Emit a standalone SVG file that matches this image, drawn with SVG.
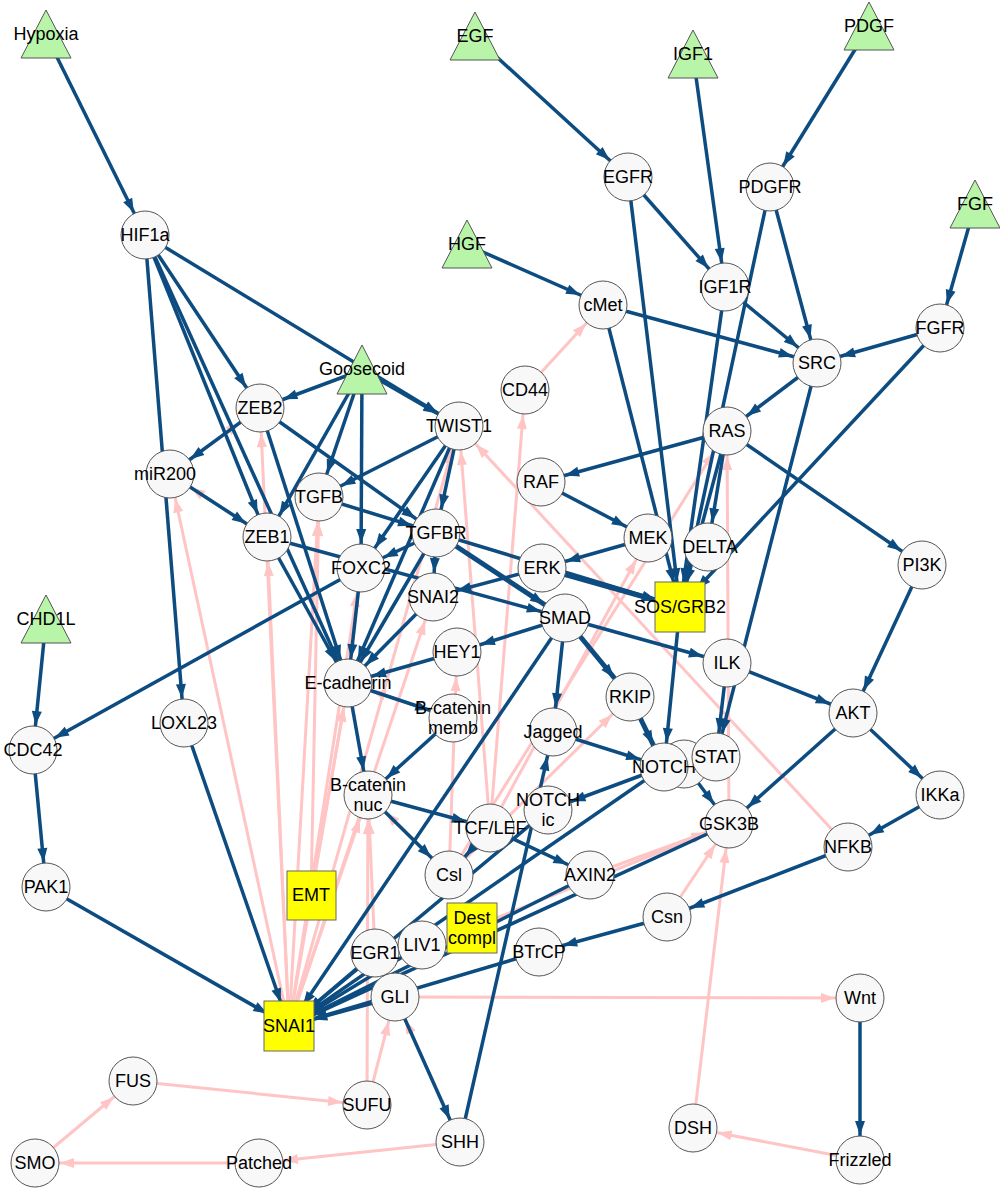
<svg xmlns="http://www.w3.org/2000/svg" width="1000" height="1190" viewBox="0 0 1000 1190">
<style>
.b line{stroke:#0d4c80;stroke-width:3.5;marker-end:url(#ab)}
.p line{stroke:#ffc4c4;stroke-width:3;marker-end:url(#ap)}
.c{fill:#f8f8f8;stroke:#555;stroke-width:1}
.t{fill:#b8f5a8;stroke:#555;stroke-width:1}
.s{fill:#ffff00;stroke:#666;stroke-width:1}
text{font-family:"Liberation Sans",Arial,sans-serif;font-size:18px;fill:#000;text-anchor:middle;dominant-baseline:central}
</style>
<defs>
<marker id="ab" markerUnits="userSpaceOnUse" viewBox="0 0 14 10" refX="39" refY="5" markerWidth="14" markerHeight="10" orient="auto" overflow="visible"><path d="M0,0 L14,5 L0,10 z" fill="#0d4c80"/></marker>
<marker id="ap" markerUnits="userSpaceOnUse" viewBox="0 0 14 10" refX="39" refY="5" markerWidth="14" markerHeight="10" orient="auto" overflow="visible"><path d="M0,0 L14,5 L0,10 z" fill="#ffc4c4"/></marker>
</defs>
<g id="connectors">
<g class="p">
<line x1="289" y1="1026" x2="170" y2="474"/>
<line x1="289" y1="1026" x2="260" y2="408"/>
<line x1="289" y1="1026" x2="267" y2="537"/>
<line x1="289" y1="1026" x2="319" y2="497"/>
<line x1="289" y1="1026" x2="361" y2="568"/>
<line x1="289" y1="1026" x2="348" y2="683"/>
<line x1="289" y1="1026" x2="459" y2="426"/>
<line x1="289" y1="1026" x2="433" y2="597"/>
<line x1="289" y1="1026" x2="368" y2="795"/>
<line x1="311" y1="895" x2="319" y2="497"/>
<line x1="311" y1="895" x2="348" y2="683"/>
<line x1="170" y1="474" x2="260" y2="408"/>
<line x1="267" y1="537" x2="170" y2="474"/>
<line x1="525" y1="390" x2="603" y2="305"/>
<line x1="490" y1="828" x2="525" y2="390"/>
<line x1="490" y1="828" x2="459" y2="426"/>
<line x1="848" y1="847" x2="459" y2="426"/>
<line x1="729" y1="824" x2="727" y2="431"/>
<line x1="490" y1="828" x2="648" y2="538"/>
<line x1="449" y1="875" x2="727" y2="431"/>
<line x1="449" y1="875" x2="630" y2="697"/>
<line x1="449" y1="875" x2="457" y2="652"/>
<line x1="449" y1="875" x2="368" y2="795"/>
<line x1="453" y1="718" x2="348" y2="683"/>
<line x1="590" y1="875" x2="729" y2="824"/>
<line x1="472" y1="928" x2="729" y2="824"/>
<line x1="667" y1="917" x2="729" y2="824"/>
<line x1="693" y1="1128" x2="729" y2="824"/>
<line x1="860" y1="1160" x2="693" y2="1128"/>
<line x1="395" y1="997" x2="860" y2="998"/>
<line x1="460" y1="1142" x2="259" y2="1163"/>
<line x1="259" y1="1163" x2="35" y2="1163"/>
<line x1="35" y1="1163" x2="133" y2="1081"/>
<line x1="133" y1="1081" x2="367" y2="1105"/>
<line x1="367" y1="1105" x2="395" y2="997"/>
<line x1="367" y1="1105" x2="368" y2="795"/>
<line x1="375" y1="953" x2="368" y2="795"/>
<line x1="460" y1="1142" x2="395" y2="997"/>
</g>
<g class="b">
<line x1="46" y1="35" x2="145" y2="235"/>
<line x1="475" y1="37" x2="628" y2="177"/>
<line x1="693" y1="55" x2="725" y2="287"/>
<line x1="869" y1="27" x2="770" y2="187"/>
<line x1="975" y1="205" x2="940" y2="328"/>
<line x1="467" y1="245" x2="603" y2="305"/>
<line x1="145" y1="235" x2="260" y2="408"/>
<line x1="145" y1="235" x2="267" y2="537"/>
<line x1="145" y1="235" x2="459" y2="426"/>
<line x1="145" y1="235" x2="184" y2="723"/>
<line x1="145" y1="235" x2="348" y2="683"/>
<line x1="362" y1="370" x2="260" y2="408"/>
<line x1="362" y1="370" x2="459" y2="426"/>
<line x1="362" y1="370" x2="319" y2="497"/>
<line x1="362" y1="370" x2="361" y2="568"/>
<line x1="362" y1="370" x2="267" y2="537"/>
<line x1="260" y1="408" x2="170" y2="474"/>
<line x1="260" y1="408" x2="348" y2="683"/>
<line x1="260" y1="408" x2="436" y2="533"/>
<line x1="170" y1="474" x2="267" y2="537"/>
<line x1="267" y1="537" x2="348" y2="683"/>
<line x1="267" y1="537" x2="565" y2="618"/>
<line x1="459" y1="426" x2="319" y2="497"/>
<line x1="459" y1="426" x2="361" y2="568"/>
<line x1="459" y1="426" x2="348" y2="683"/>
<line x1="459" y1="426" x2="436" y2="533"/>
<line x1="319" y1="497" x2="436" y2="533"/>
<line x1="436" y1="533" x2="433" y2="597"/>
<line x1="436" y1="533" x2="361" y2="568"/>
<line x1="436" y1="533" x2="348" y2="683"/>
<line x1="436" y1="533" x2="565" y2="618" style="stroke-width:5"/>
<line x1="436" y1="533" x2="680" y2="607"/>
<line x1="361" y1="568" x2="33" y2="750"/>
<line x1="361" y1="568" x2="348" y2="683"/>
<line x1="433" y1="597" x2="348" y2="683"/>
<line x1="457" y1="652" x2="348" y2="683"/>
<line x1="348" y1="683" x2="453" y2="718"/>
<line x1="348" y1="683" x2="368" y2="795"/>
<line x1="453" y1="718" x2="368" y2="795"/>
<line x1="542" y1="568" x2="433" y2="597"/>
<line x1="542" y1="568" x2="680" y2="607" style="stroke-width:5"/>
<line x1="648" y1="538" x2="542" y2="568"/>
<line x1="541" y1="482" x2="648" y2="538"/>
<line x1="727" y1="431" x2="541" y2="482"/>
<line x1="727" y1="431" x2="708" y2="547"/>
<line x1="727" y1="431" x2="922" y2="565"/>
<line x1="727" y1="431" x2="680" y2="607"/>
<line x1="628" y1="177" x2="725" y2="287"/>
<line x1="628" y1="177" x2="680" y2="607"/>
<line x1="770" y1="187" x2="817" y2="363"/>
<line x1="770" y1="187" x2="680" y2="607"/>
<line x1="725" y1="287" x2="817" y2="363"/>
<line x1="725" y1="287" x2="680" y2="607"/>
<line x1="603" y1="305" x2="817" y2="363"/>
<line x1="603" y1="305" x2="680" y2="607"/>
<line x1="940" y1="328" x2="817" y2="363"/>
<line x1="940" y1="328" x2="680" y2="607"/>
<line x1="817" y1="363" x2="727" y2="431"/>
<line x1="817" y1="363" x2="716" y2="757"/>
<line x1="565" y1="618" x2="457" y2="652"/>
<line x1="565" y1="618" x2="727" y2="663"/>
<line x1="565" y1="618" x2="630" y2="697" style="stroke-width:5"/>
<line x1="565" y1="618" x2="553" y2="732"/>
<line x1="565" y1="618" x2="289" y2="1026"/>
<line x1="680" y1="607" x2="664" y2="767"/>
<line x1="630" y1="697" x2="664" y2="767" style="stroke-width:5"/>
<line x1="553" y1="732" x2="664" y2="767"/>
<line x1="664" y1="767" x2="548" y2="810"/>
<line x1="664" y1="767" x2="289" y2="1026"/>
<line x1="684" y1="764" x2="729" y2="824"/>
<line x1="727" y1="663" x2="716" y2="757"/>
<line x1="727" y1="663" x2="853" y2="713"/>
<line x1="922" y1="565" x2="853" y2="713"/>
<line x1="853" y1="713" x2="729" y2="824"/>
<line x1="853" y1="713" x2="940" y2="795"/>
<line x1="940" y1="795" x2="848" y2="847"/>
<line x1="848" y1="847" x2="667" y2="917"/>
<line x1="667" y1="917" x2="539" y2="952"/>
<line x1="729" y1="824" x2="289" y2="1026"/>
<line x1="590" y1="875" x2="289" y2="1026"/>
<line x1="490" y1="828" x2="590" y2="875"/>
<line x1="490" y1="828" x2="449" y2="875"/>
<line x1="368" y1="795" x2="490" y2="828"/>
<line x1="368" y1="795" x2="449" y2="875"/>
<line x1="548" y1="810" x2="289" y2="1026"/>
<line x1="422" y1="945" x2="289" y2="1026"/>
<line x1="375" y1="953" x2="289" y2="1026"/>
<line x1="395" y1="997" x2="289" y2="1026"/>
<line x1="539" y1="952" x2="289" y2="1026"/>
<line x1="395" y1="997" x2="460" y2="1142"/>
<line x1="460" y1="1142" x2="553" y2="732"/>
<line x1="46" y1="620" x2="33" y2="750"/>
<line x1="33" y1="750" x2="46" y2="887"/>
<line x1="46" y1="887" x2="289" y2="1026"/>
<line x1="184" y1="723" x2="289" y2="1026"/>
<line x1="860" y1="998" x2="860" y2="1160"/>
</g>
</g>
<g id="nodes">
<g id="Hypoxia"><polygon class="t" points="46,10 21,58 71,58"/><text x="46" y="34">Hypoxia</text></g>
<g id="EGF"><polygon class="t" points="475,12 450,60 500,60"/><text x="475" y="36">EGF</text></g>
<g id="IGF1"><polygon class="t" points="693,30 668,78 718,78"/><text x="693" y="54">IGF1</text></g>
<g id="PDGF"><polygon class="t" points="869,2 844,50 894,50"/><text x="869" y="26">PDGF</text></g>
<g id="FGF"><polygon class="t" points="975,180 950,228 1000,228"/><text x="975" y="204">FGF</text></g>
<g id="HGF"><polygon class="t" points="467,220 442,268 492,268"/><text x="467" y="244">HGF</text></g>
<g id="Goosecoid"><polygon class="t" points="362,345 337,394 387,394"/><text x="362" y="369">Goosecoid</text></g>
<g id="CHD1L"><polygon class="t" points="46,595 21,643 71,643"/><text x="46" y="619">CHD1L</text></g>
<g id="HIF1a"><circle class="c" cx="145" cy="235" r="24"/><text x="145" y="235">HIF1a</text></g>
<g id="EGFR"><circle class="c" cx="628" cy="177" r="24"/><text x="628" y="177">EGFR</text></g>
<g id="PDGFR"><circle class="c" cx="770" cy="187" r="24"/><text x="770" y="187">PDGFR</text></g>
<g id="IGF1R"><circle class="c" cx="725" cy="287" r="24"/><text x="725" y="287">IGF1R</text></g>
<g id="cMet"><circle class="c" cx="603" cy="305" r="24"/><text x="603" y="305">cMet</text></g>
<g id="FGFR"><circle class="c" cx="940" cy="328" r="24"/><text x="940" y="328">FGFR</text></g>
<g id="SRC"><circle class="c" cx="817" cy="363" r="24"/><text x="817" y="363">SRC</text></g>
<g id="CD44"><circle class="c" cx="525" cy="390" r="24"/><text x="525" y="390">CD44</text></g>
<g id="ZEB2"><circle class="c" cx="260" cy="408" r="24"/><text x="260" y="408">ZEB2</text></g>
<g id="TWIST1"><circle class="c" cx="459" cy="426" r="24"/><text x="459" y="426">TWIST1</text></g>
<g id="RAS"><circle class="c" cx="727" cy="431" r="24"/><text x="727" y="431">RAS</text></g>
<g id="miR200"><circle class="c" cx="170" cy="474" r="24"/><text x="165" y="474">miR200</text></g>
<g id="TGFB"><circle class="c" cx="319" cy="497" r="24"/><text x="319" y="497">TGFB</text></g>
<g id="RAF"><circle class="c" cx="541" cy="482" r="24"/><text x="541" y="482">RAF</text></g>
<g id="TGFBR"><circle class="c" cx="436" cy="533" r="24"/><text x="436" y="533">TGFBR</text></g>
<g id="MEK"><circle class="c" cx="648" cy="538" r="24"/><text x="648" y="538">MEK</text></g>
<g id="ZEB1"><circle class="c" cx="267" cy="537" r="24"/><text x="267" y="537">ZEB1</text></g>
<g id="FOXC2"><circle class="c" cx="361" cy="568" r="24"/><text x="361" y="568">FOXC2</text></g>
<g id="DELTA"><circle class="c" cx="708" cy="547" r="24"/><text x="710" y="547">DELTA</text></g>
<g id="ERK"><circle class="c" cx="542" cy="568" r="24"/><text x="542" y="568">ERK</text></g>
<g id="PI3K"><circle class="c" cx="922" cy="565" r="24"/><text x="922" y="565">PI3K</text></g>
<g id="SNAI2"><circle class="c" cx="433" cy="597" r="24"/><text x="433" y="597">SNAI2</text></g>
<g id="SMAD"><circle class="c" cx="565" cy="618" r="24"/><text x="565" y="618">SMAD</text></g>
<g id="SOSGRB2"><rect class="s" x="655" y="582" width="50" height="50"/><text x="680" y="607">SOS/GRB2</text></g>
<g id="HEY1"><circle class="c" cx="457" cy="652" r="24"/><text x="457" y="652">HEY1</text></g>
<g id="ILK"><circle class="c" cx="727" cy="663" r="24"/><text x="727" y="663">ILK</text></g>
<g id="Ecadherin"><circle class="c" cx="348" cy="683" r="24"/><text x="348" y="683">E-cadherin</text></g>
<g id="RKIP"><circle class="c" cx="630" cy="697" r="24"/><text x="630" y="697">RKIP</text></g>
<g id="Bmemb"><circle class="c" cx="453" cy="718" r="24"/><text x="453" y="708">B-catenin</text><text x="453" y="728">memb</text></g>
<g id="AKT"><circle class="c" cx="853" cy="713" r="24"/><text x="853" y="713">AKT</text></g>
<g id="Jagged"><circle class="c" cx="553" cy="732" r="24"/><text x="553" y="732">Jagged</text></g>
<g id="CDC42"><circle class="c" cx="33" cy="750" r="24"/><text x="33" y="750">CDC42</text></g>
<g id="LOXL23"><circle class="c" cx="184" cy="723" r="24"/><text x="184" y="723">LOXL23</text></g>
<g id="hidden"><circle class="c" cx="684" cy="764" r="24"/></g>
<g id="NOTCH"><circle class="c" cx="664" cy="767" r="24"/><text x="664" y="767">NOTCH</text></g>
<g id="STAT"><circle class="c" cx="716" cy="757" r="24"/><text x="716" y="757">STAT</text></g>
<g id="Bnuc"><circle class="c" cx="368" cy="795" r="24"/><text x="368" y="785">B-catenin</text><text x="368" y="805">nuc</text></g>
<g id="NOTCHic"><circle class="c" cx="548" cy="810" r="24"/><text x="548" y="800">NOTCH</text><text x="548" y="820">ic</text></g>
<g id="IKKa"><circle class="c" cx="940" cy="795" r="24"/><text x="940" y="795">IKKa</text></g>
<g id="TCFLEF"><circle class="c" cx="490" cy="828" r="24"/><text x="490" y="828">TCF/LEF</text></g>
<g id="GSK3B"><circle class="c" cx="729" cy="824" r="24"/><text x="729" y="824">GSK3B</text></g>
<g id="NFKB"><circle class="c" cx="848" cy="847" r="24"/><text x="848" y="847">NFKB</text></g>
<g id="Csl"><circle class="c" cx="449" cy="875" r="24"/><text x="449" y="875">Csl</text></g>
<g id="AXIN2"><circle class="c" cx="590" cy="875" r="24"/><text x="590" y="875">AXIN2</text></g>
<g id="EMT"><rect class="s" x="287" y="871" width="49" height="49"/><text x="311" y="895">EMT</text></g>
<g id="PAK1"><circle class="c" cx="46" cy="887" r="24"/><text x="46" y="887">PAK1</text></g>
<g id="Csn"><circle class="c" cx="667" cy="917" r="24"/><text x="667" y="917">Csn</text></g>
<g id="Dest"><rect class="s" x="447" y="903" width="50" height="50"/><text x="472" y="918">Dest</text><text x="472" y="938">compl</text></g>
<g id="EGR1"><circle class="c" cx="375" cy="953" r="24"/><text x="375" y="953">EGR1</text></g>
<g id="LIV1"><circle class="c" cx="422" cy="945" r="24"/><text x="422" y="945">LIV1</text></g>
<g id="BTrCP"><circle class="c" cx="539" cy="952" r="24"/><text x="539" y="952">BTrCP</text></g>
<g id="GLI"><circle class="c" cx="395" cy="997" r="24"/><text x="395" y="997">GLI</text></g>
<g id="SNAI1"><rect class="s" x="264" y="1001" width="50" height="50"/><text x="289" y="1026">SNAI1</text></g>
<g id="Wnt"><circle class="c" cx="860" cy="998" r="24"/><text x="860" y="998">Wnt</text></g>
<g id="FUS"><circle class="c" cx="133" cy="1081" r="24"/><text x="133" y="1081">FUS</text></g>
<g id="SUFU"><circle class="c" cx="367" cy="1105" r="24"/><text x="367" y="1105">SUFU</text></g>
<g id="DSH"><circle class="c" cx="693" cy="1128" r="24"/><text x="693" y="1128">DSH</text></g>
<g id="SHH"><circle class="c" cx="460" cy="1142" r="24"/><text x="460" y="1142">SHH</text></g>
<g id="SMO"><circle class="c" cx="35" cy="1163" r="24"/><text x="35" y="1163">SMO</text></g>
<g id="Patched"><circle class="c" cx="259" cy="1163" r="24"/><text x="259" y="1163">Patched</text></g>
<g id="Frizzled"><circle class="c" cx="860" cy="1160" r="24"/><text x="860" y="1160">Frizzled</text></g>
</g>
</svg>
